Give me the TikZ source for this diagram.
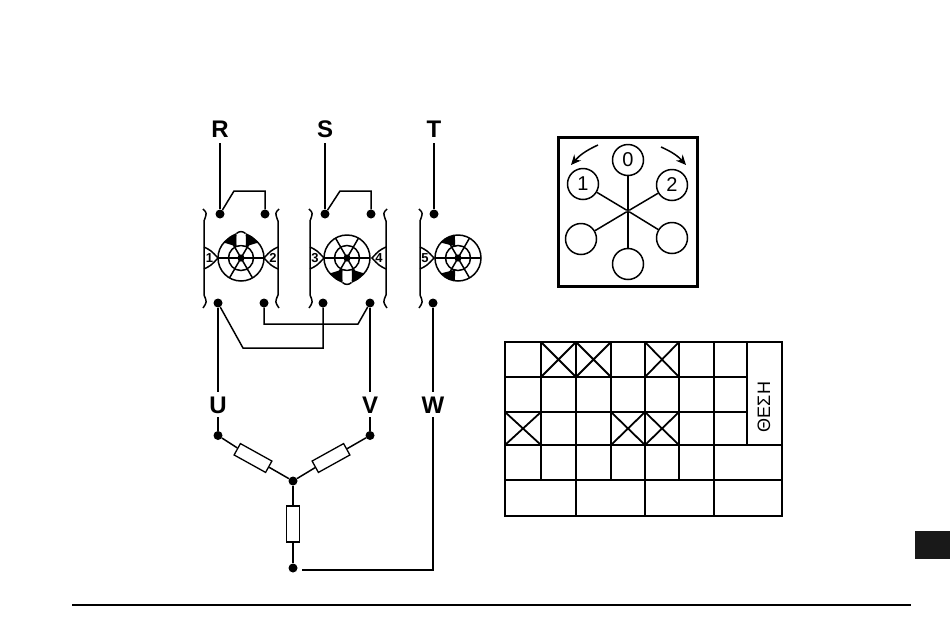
\documentclass[tikz,border=0pt]{standalone}
\usepackage{fontspec}
\setmainfont{Liberation Sans}
\usetikzlibrary{calc,arrows.meta,positioning}

\begin{document}
\begin{tikzpicture}[x=1pt,y=-1pt,
    wire/.style={line width=1.5pt},
    grid/.style={line width=1.8pt},
    ele/.style={fill=black,circle,inner sep=0pt,minimum size=9pt},
    lab/.style={font=\bfseries\fontsize{24}{24}\selectfont,text height=17pt,text depth=0pt,inner sep=4pt},
    res/.style={draw,fill=white,line width=1.3pt,minimum width=36pt,minimum height=13pt,inner sep=0pt},
    dial/.style={draw,circle,line width=1.5pt,minimum size=31pt,inner sep=0pt,font=\fontsize{20}{20}\selectfont},
    num/.style={font=\bfseries\fontsize{13}{13}\selectfont,inner sep=0pt},
    wheel/.pic={
        \draw[wire] (0,0) circle (23);
        \draw[wire] (0,0) circle (12.5);
        \draw[wire] (-23,0) -- (23,0);
        \draw[wire] (-120:23) -- (60:23);
        \draw[wire] (-60:23) -- (120:23);
        \fill (0,0) circle (3.6);
    },
    seg/.pic={
        \fill (-138:23) arc (-138:-98:23) -- (-103:12) -- cycle;
    },
    petal/.pic={
        \fill (-138:23) .. controls (-12,-21.5) .. (-4.5,-25) -- (-4.5,-11.5) -- cycle;
        \fill (-42:23) .. controls (12,-21.5) .. (4.5,-25) -- (4.5,-11.5) -- cycle;
        \fill[white] (-4.5,-13.4) -- (-4.5,-24.5) .. controls (-2,-27) and (2,-27) .. (4.5,-24.5) -- (4.5,-13.4) -- cycle;
        \draw[wire] (-4.5,-24.5) .. controls (-2,-27) and (2,-27) .. (4.5,-24.5);
    },
    bracket/.pic={
        \draw[wire] (-1,209) .. controls (3,213) .. (0,221) -- (0,295) .. controls (3,302) .. (-1,308);
    },
    ear/.pic={
        \draw[wire] (0,-11) .. controls (7,-7.5) .. (14,0) .. controls (7,7.5) .. (0,11);
    }]
    \useasboundingbox (0,0) rectangle (950,643);

    % terminals
    \node[lab,inner sep=5.5pt] (R) at (220,129) {R};
    \node[lab,inner sep=5.5pt] (S) at (325,129) {S};
    \node[lab,inner sep=5.5pt] (T) at (434,129) {T};
    \node[ele] (a1) at (220,214) {};
    \node[ele] (a2) at (265,214) {};
    \node[ele] (a3) at (325,214) {};
    \node[ele] (a4) at (371,214) {};
    \node[ele] (a5) at (434,214) {};
    \node[ele] (b1) at (218,303) {};
    \node[ele] (b2) at (264,303) {};
    \node[ele] (b3) at (323,303) {};
    \node[ele] (b4) at (370,303) {};
    \node[ele] (b5) at (433,303) {};
    \coordinate (j1) at (234,191);
    \coordinate (j2) at (340,191);
    \coordinate (j3) at (243,348);
    \coordinate (j4) at (358,324);
    \draw[wire] (R) -- (a1);
    \draw[wire] (S) -- (a3);
    \draw[wire] (T) -- (a5);
    \draw[wire] (a1) -- (j1) -| (a2);
    \draw[wire] (a3) -- (j2) -| (a4);
    \draw[wire] (b1) -- (j3) -| (b3);
    \draw[wire] (b4) -- (j4) -| (b2);

    % switch wheels
    \pic at (204,0) {bracket};
    \pic[xscale=-1] at (278,0) {bracket};
    \pic at (310,0) {bracket};
    \pic[xscale=-1] at (386,0) {bracket};
    \pic at (420,0) {bracket};
    \pic at (204,258) {ear};
    \pic[xscale=-1] at (278,258) {ear};
    \pic at (310,258) {ear};
    \pic[xscale=-1] at (386,258) {ear};
    \pic at (420,258) {ear};
    \node[num] (n1) at (209.5,258) {1};
    \node[num] (n2) at (273,258) {2};
    \node[num] (n3) at (315,258) {3};
    \node[num] (n4) at (379,258) {4};
    \node[num] (n5) at (425,258) {5};
    \pic at (241,258) {wheel};
    \pic at (347,258) {wheel};
    \pic at (458,258) {wheel};
    \pic at (241,258) {petal};
    \pic[yscale=-1] at (347,258) {petal};
    \pic at (458,258) {seg};
    \pic[yscale=-1] at (458,258) {seg};

    % star connection
    \node[lab] (U) at (218,404.5) {U};
    \node[lab] (V) at (370,404.5) {V};
    \node[lab] (W) at (433,404.5) {W};
    \node[ele] (c1) at (218,435.5) {};
    \node[ele] (c2) at (370,435.5) {};
    \node[ele] (c3) at (293,481) {};
    \node[ele] (c4) at (293,568) {};
    \node[res,rotate=-29] (r1) at (253,458) {};
    \node[res,rotate=29] (r2) at (331,458) {};
    \node[res,rotate=90] (r3) at (293,524) {};
    \coordinate (k1) at (433,570);
    \coordinate (k2) at (302,570);
    \draw[wire] (b1) -- (U);
    \draw[wire] (b4) -- (V);
    \draw[wire] (b5) -- (W);
    \draw[wire] (U) -- (c1);
    \draw[wire] (V) -- (c2);
    \draw[wire] (W) -- (k1) -- (k2);
    \draw[wire] (c1) -- (r1) -- (c3);
    \draw[wire] (c2) -- (r2) -- (c3);
    \draw[wire] (c3) -- (r3) -- (c4);

    % selector
    \node[draw,line width=2.1pt,minimum width=139pt,minimum height=149pt,inner sep=0pt] (box) at (628,212) {};
    \node[circle,fill=black,inner sep=0.9pt] (hub) at (628,211) {};
    \node[dial] (d0) at (628,160) {0};
    \node[dial] (d1) at (583,184) {1};
    \node[dial] (d2) at (672,185) {2};
    \node[dial] (d3) at (581,239) {};
    \node[dial] (d4) at (672,238) {};
    \node[dial] (d5) at (628,264) {};
    \draw[wire] (hub) -- (d0);
    \draw[wire] (hub) -- (d1);
    \draw[wire] (hub) -- (d2);
    \draw[wire] (hub) -- (d3);
    \draw[wire] (hub) -- (d4);
    \draw[wire] (hub) -- (d5);
    \coordinate (p1) at (598,145);
    \coordinate (p2) at (571,165);
    \coordinate (p3) at (661,147);
    \coordinate (p4) at (686,165);
    \draw[wire,-{Stealth[length=10pt,width=9pt]}] (p1) to[bend right=12] (p2);
    \draw[wire,-{Stealth[length=10pt,width=9pt]}] (p3) to[bend left=12] (p4);

    % table
    \draw[grid] (505,342) rectangle (782,516);
    \draw[grid] (505,377) -- (747,377);
    \draw[grid] (505,412) -- (747,412);
    \draw[grid] (505,445) -- (782,445);
    \draw[grid] (505,480) -- (782,480);
    \draw[grid] (747,342) -- (747,445);
    \foreach \xx in {541,576,611,645,679,714}
        \draw[grid] (\xx,342) -- (\xx,480);
    \foreach \xx in {576,645,714}
        \draw[grid] (\xx,480) -- (\xx,516);
    \draw[grid] (541,342) -- (576,377) (576,342) -- (541,377);
    \draw[grid] (576,342) -- (611,377) (611,342) -- (576,377);
    \draw[grid] (645,342) -- (679,377) (679,342) -- (645,377);
    \draw[grid] (505,412) -- (541,445) (541,412) -- (505,445);
    \draw[grid] (611,412) -- (645,445) (645,412) -- (611,445);
    \draw[grid] (645,412) -- (679,445) (679,412) -- (645,445);
    \node[rotate=90,font=\fontsize{18}{18}\selectfont,inner sep=0pt] (pos) at (764,407) {ΘΕΣΗ};

    % page furniture
    \coordinate (f1) at (72,605);
    \coordinate (f2) at (911,605);
    \draw[line width=2.2pt] (f1) -- (f2);
    \fill[black!90] (915,531) rectangle (950,559);
\end{tikzpicture}
\end{document}
